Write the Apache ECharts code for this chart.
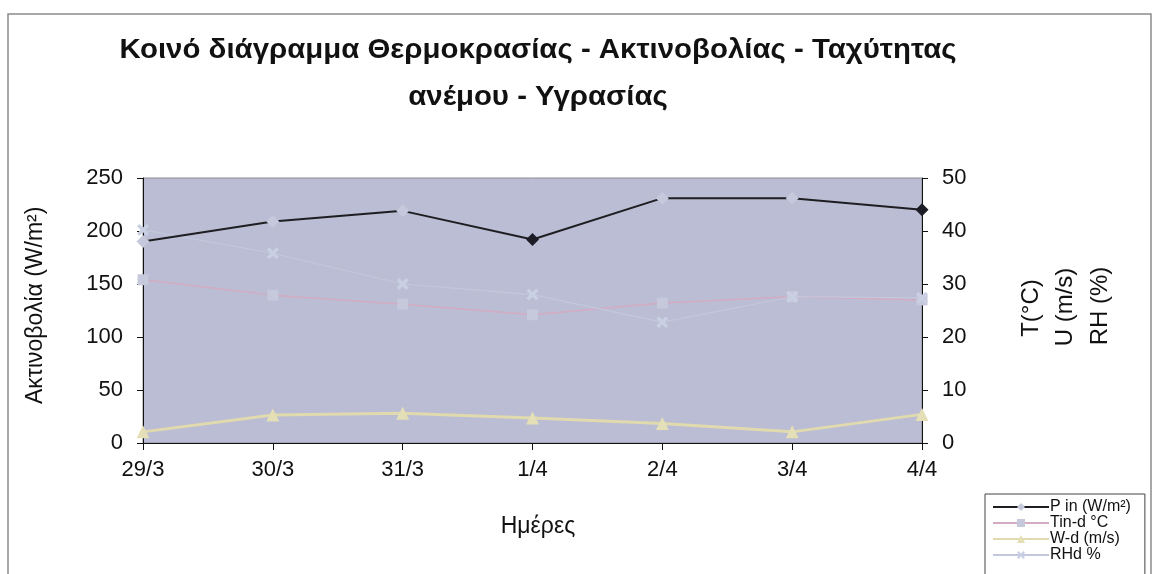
<!DOCTYPE html>
<html>
<head>
<meta charset="utf-8">
<script src="https://cdn.jsdelivr.net/npm/echarts@6/dist/echarts.min.js"></script>
<style>
  html, body { margin: 0; padding: 0; background: #ffffff; }
  #chart { width: 1157px; height: 574px; }
</style>
</head>
<body>
<div id="chart"></div>
<script>
// Days of the measurement period
const days = ['29/3', '30/3', '31/3', '1/4', '2/4', '3/4', '4/4'];

// Solar radiation (left axis, W/m²)
const pIn = [190, 209, 219, 192, 231, 231, 220];
// Indoor temperature (right axis, °C)
const tinD = [30.8, 27.9, 26.2, 24.2, 26.4, 27.6, 27.0];
// Wind speed (right axis, m/s)
const wD = [2.1, 5.3, 5.6, 4.7, 3.7, 2.1, 5.4];
// Relative humidity (right axis, %)
const rhD = [40.2, 35.8, 30.0, 28.0, 22.8, 27.6, 27.4];

// Axis tick settings
const leftMax = 250, leftStep = 50;
const rightMax = 50, rightStep = 10;

// Points of the radiation series whose markers are printed dark
const darkMarkers = [3, 6];

const FONT = '"Liberation Sans", Arial, sans-serif';
const crossPath = 'path://M0,2 L2,0 L5,3 L8,0 L10,2 L7,5 L10,8 L8,10 L5,7 L2,10 L0,8 L3,5 Z';

const chart = echarts.init(document.getElementById('chart'), null, { renderer: 'canvas' });

const option = {
  animation: false,
  backgroundColor: '#ffffff',
  textStyle: { fontFamily: FONT },
  grid: {
    left: 143, right: 235, top: 178, bottom: 131,
    show: true, backgroundColor: '#babdd3', borderColor: '#8a8a96', borderWidth: 1
  },
  legend: {
    orient: 'vertical',
    left: 985, top: 494, height: 120,
    padding: [5, 14, 14, 7],
    itemWidth: 56, itemHeight: 10, itemGap: 0,
    backgroundColor: '#ffffff',
    borderColor: '#444', borderWidth: 1,
    textStyle: { fontFamily: FONT, fontSize: 16, lineHeight: 15.6, color: '#111', padding: [0, 0, 0, -4] },
    data: ['P in (W/m²)', 'Tin-d °C', 'W-d (m/s)', 'RHd %']
  },
  xAxis: {
    type: 'category',
    data: days,
    boundaryGap: false,
    axisLine: { lineStyle: { color: '#111', width: 1 } },
    axisTick: { show: true, length: 7, lineStyle: { color: '#111' } },
    axisLabel: { fontFamily: FONT, fontSize: 22, color: '#111', margin: 16 },
    splitLine: { show: false }
  },
  yAxis: [
    {
      type: 'value', min: 0, max: leftMax, interval: leftStep,
      axisLine: { show: true, lineStyle: { color: '#111' } },
      axisTick: { show: true, length: 6, lineStyle: { color: '#111' } },
      axisLabel: { fontFamily: FONT, fontSize: 22, color: '#111', margin: 20 },
      splitLine: { show: false }
    },
    {
      type: 'value', min: 0, max: rightMax, interval: rightStep,
      position: 'right',
      axisLine: { show: true, lineStyle: { color: '#111' } },
      axisTick: { show: true, length: 6, lineStyle: { color: '#111' } },
      axisLabel: { fontFamily: FONT, fontSize: 22, color: '#111', margin: 20 },
      splitLine: { show: false }
    }
  ],
  series: [
    {
      name: 'Tin-d °C', type: 'line', yAxisIndex: 1, data: tinD,
      symbol: 'rect', symbolSize: 11,
      lineStyle: { color: '#d3abc3', width: 1.5 },
      itemStyle: { color: '#c6c8db' },
      z: 2
    },
    {
      name: 'RHd %', type: 'line', yAxisIndex: 1, data: rhD,
      symbol: crossPath, symbolSize: 12,
      lineStyle: { color: '#c3c8dd', width: 1.2 },
      itemStyle: { color: '#cad0e4' },
      z: 2
    },
    {
      name: 'W-d (m/s)', type: 'line', yAxisIndex: 1, data: wD,
      symbol: 'triangle', symbolSize: 13,
      lineStyle: { color: '#e0daae', width: 3 },
      itemStyle: { color: '#e4dfb6' },
      z: 3
    },
    {
      name: 'P in (W/m²)', type: 'line', yAxisIndex: 0,
      data: pIn.map((v, i) => darkMarkers.includes(i)
        ? { value: v, itemStyle: { color: '#1c1c26' } }
        : v),
      symbol: 'diamond', symbolSize: 13,
      lineStyle: { color: '#1e1e22', width: 2 },
      itemStyle: { color: '#c6c9dc' },
      z: 4
    }
  ],
  graphic: [
    // outer chart frame
    {
      type: 'rect', silent: true, z: -10,
      shape: { x: 8, y: 14, width: 1143, height: 620 },
      style: { fill: null, stroke: '#8c8c8c', lineWidth: 1.5 }
    },
    // title
    {
      type: 'text', x: 538, y: 27, scaleX: 1.05, z: 10,
      style: {
        text: 'Κοινό διάγραμμα Θερμοκρασίας - Ακτινοβολίας - Ταχύτητας\nανέμου - Υγρασίας',
        font: 'bold 28px ' + FONT, fill: '#111', textAlign: 'center', lineHeight: 47
      }
    },
    // x-axis name
    {
      type: 'text', x: 538, y: 527, z: 10,
      style: { text: 'Ημέρες', font: '23px ' + FONT, fill: '#111', textAlign: 'center', textVerticalAlign: 'middle' }
    },
    // left axis name
    {
      type: 'text', x: 36, y: 404, rotation: Math.PI / 2, z: 10,
      style: { text: 'Ακτινοβολία (W/m²)', font: '23px ' + FONT, fill: '#111', textAlign: 'left', textVerticalAlign: 'middle' }
    },
    // right axis names
    {
      type: 'text', x: 1031, y: 308, rotation: Math.PI / 2, z: 10,
      style: { text: 'T(°C)', font: '24px ' + FONT, fill: '#111', textAlign: 'center', textVerticalAlign: 'middle' }
    },
    {
      type: 'text', x: 1065, y: 307, rotation: Math.PI / 2, z: 10,
      style: { text: 'U (m/s)', font: '24px ' + FONT, fill: '#111', textAlign: 'center', textVerticalAlign: 'middle' }
    },
    {
      type: 'text', x: 1100, y: 306, rotation: Math.PI / 2, z: 10,
      style: { text: 'RH (%)', font: '24px ' + FONT, fill: '#111', textAlign: 'center', textVerticalAlign: 'middle' }
    }
  ]
};

chart.setOption(option);
</script>
</body>
</html>
